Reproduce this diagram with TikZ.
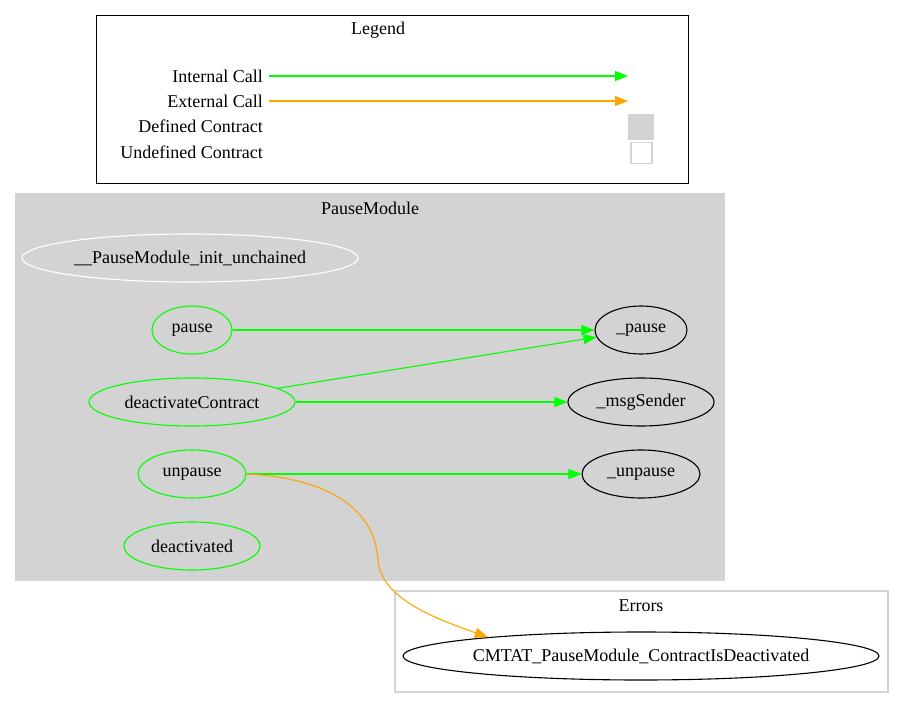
\documentclass[tikz,border=0pt]{standalone}
\usepackage{fontspec}
\setmainfont{Liberation Serif}
\usetikzlibrary{arrows.meta,shapes.geometric}
\definecolor{gvgray}{RGB}{211,211,211}
\definecolor{gvgreen}{RGB}{0,255,0}
\definecolor{gvorange}{RGB}{255,165,0}
\tikzset{
  every node/.style={font=\fontsize{18}{22}\selectfont, inner sep=0pt},
  fn/.style={ellipse, draw=#1, line width=1.1pt, minimum height=48pt},
  lbl/.style={anchor=east},
  icall/.style={color=gvgreen, line width=1.1pt, -{Triangle[length=13pt,width=10pt]}},
  ecall/.style={color=gvorange, line width=1.1pt, -{Triangle[length=13pt,width=10pt]}},
}
\begin{document}
\begin{tikzpicture}[x=1pt,y=-1pt]
\useasboundingbox (0,0) rectangle (904,708);
% Legend
\draw[line width=0.8pt] (96,15) rectangle (688,183);
\node (lt) at (378,30) {Legend};
\node[lbl] (l1) at (263,76) {Internal Call};
\node[lbl] (l2) at (263,101) {External Call};
\node[lbl] (l3) at (263,126) {Defined Contract};
\node[lbl] (l4) at (263,152) {Undefined Contract};
\coordinate (a1s) at (269,76); \coordinate (a1e) at (628,76);
\coordinate (a2s) at (269,101); \coordinate (a2e) at (628,101);
\draw[icall] (a1s) -- (a1e);
\draw[ecall] (a2s) -- (a2e);
\node[draw=gvgray, fill=gvgray, minimum width=25pt, minimum height=25pt] (dsq) at (641,126.5) {};
\node[draw=gvgray, line width=1.1pt, fill=white, minimum width=21pt, minimum height=21pt] (usq) at (641.5,153) {};
% PauseModule cluster
\fill[gvgray] (15,193) rectangle (725,581);
\node (pmt) at (370,208) {PauseModule};
\node[fn=white, minimum width=336pt] (init) at (190,258) {\_\_PauseModule\_init\_unchained};
\node[fn=gvgreen, minimum width=80pt] (pause) at (192,330) {pause};
\node[fn=gvgreen, minimum width=206pt] (dc) at (192,402) {deactivateContract};
\node[fn=gvgreen, minimum width=108pt] (unpause) at (192,474) {unpause};
\node[fn=gvgreen, minimum width=136pt] (deact) at (192,546) {deactivated};
\node[fn=black, minimum width=92pt] (ipause) at (641,330) {\_pause};
\node[fn=black, minimum width=146pt] (msg) at (641,402) {\_msgSender};
\node[fn=black, minimum width=118pt] (iunpause) at (641,474) {\_unpause};
% Errors cluster
\draw[gvgray, line width=1.1pt] (395,591) rectangle (888,692);
\node (et) at (641,606) {Errors};
\node[fn=black, minimum width=472pt] (err) at (641,656) {CMTAT\_PauseModule\_ContractIsDeactivated};
% edges
\draw[icall] (pause) -- (ipause);
\draw[icall] (dc) -- (ipause);
\draw[icall] (dc) -- (msg);
\draw[icall] (unpause) -- (iunpause);
\coordinate (mid) at (378,560);
\draw[ecall] (unpause.east) .. controls (330,478) and (375,510) .. (mid) .. controls (381,600) and (440,620) .. (err.173);
\end{tikzpicture}
\end{document}
